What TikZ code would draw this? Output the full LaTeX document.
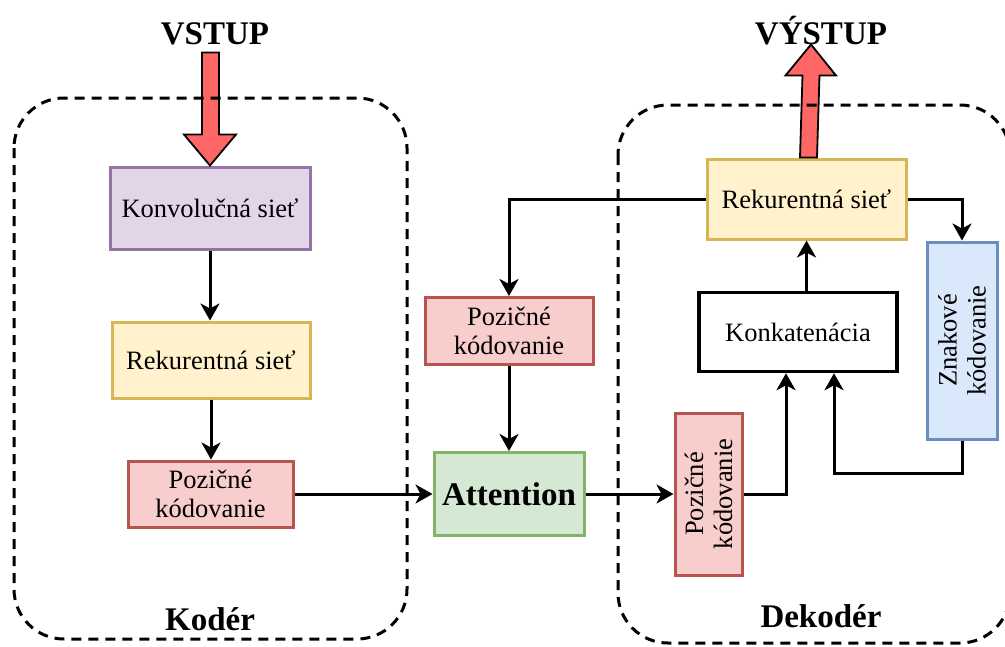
\documentclass[tikz,border=0pt]{standalone}
\usepackage{fontspec}
\setmainfont{Liberation Serif}
\usetikzlibrary{arrows.meta,calc}
\definecolor{purpF}{HTML}{E1D5E7}
\definecolor{purpD}{HTML}{9673A6}
\definecolor{yelF}{HTML}{FFF2CC}
\definecolor{yelD}{HTML}{D6B656}
\definecolor{redF}{HTML}{F8CECC}
\definecolor{redD}{HTML}{B85450}
\definecolor{grnF}{HTML}{D5E8D4}
\definecolor{grnD}{HTML}{82B366}
\definecolor{bluF}{HTML}{DAE8FC}
\definecolor{bluD}{HTML}{6C8EBF}
\definecolor{arrowred}{HTML}{FF6666}
\tikzset{
  box/.style={draw, line width=3pt, inner sep=0pt, align=center,
    font=\fontsize{26.5}{29}\selectfont},
  conn/.style={line width=3pt, -{Stealth[length=17pt,width=19pt,inset=5pt]}},
  container/.style={draw, line width=3pt, dash pattern=on 10pt off 7pt,
    rounded corners=50pt},
  title/.style={font=\fontsize{33}{38}\selectfont\bfseries, inner sep=0pt},
  blockarrow/.style={fill=arrowred, draw=black, line width=1.8pt, line join=miter}
}
\begin{document}
\begin{tikzpicture}[x=1pt,y=-1pt]
\useasboundingbox (0,0) rectangle (1005,646);

% encoder
\node[box, fill=purpF, draw=purpD, minimum width=200, minimum height=82] (konv) at (210,208) {Konvolučná sieť};
\node[box, fill=yelF, draw=yelD, minimum width=198, minimum height=76] (rek) at (211,360) {Rekurentná sieť};
\node[box, fill=redF, draw=redD, minimum width=165, minimum height=66] (pozL) at (210.5,494) {Pozičné\\kódovanie};

% middle
\node[box, fill=grnF, draw=grnD, minimum width=150, minimum height=83,
  font=\fontsize{33}{38}\selectfont\bfseries] (att) at (509,494) {Attention};
\node[box, fill=redF, draw=redD, minimum width=168, minimum height=67] (pozM) at (509,331) {Pozičné\\kódovanie};

% decoder
\node[box, fill=yelF, draw=yelD, minimum width=199, minimum height=80] (rr) at (806.5,199) {Rekurentná sieť};
\node[box, fill=white, draw=black, line width=3.5pt, minimum width=198, minimum height=79] (kon) at (798,332) {Konkatenácia};
\node[box, fill=redF, draw=redD, minimum width=162, minimum height=67, rotate=90] (pv) at (708.5,494) {Pozičné\\kódovanie};
\node[box, fill=bluF, draw=bluD, minimum width=197, minimum height=70, rotate=90] (zn) at (962,340.5) {Znakové\\kódovanie};

% titles
\node[title] (vstup) at (215,34) {VSTUP};
\node[title] (vystup) at (821,31) {VÝSTUP};
\node[title, anchor=base] (koder) at (210,630) {Kodér};
\node[title, anchor=base] (dekoder) at (821,627) {Dekodér};

% connectors
\draw[conn] (konv.south) -- (konv.south |- rek.north);
\draw[conn] (rek.south) -- (rek.south |- pozL.north);
\draw[conn] (pozL.east) -- (att.west);
\draw[conn] (rr.west) -| (pozM.north);
\draw[conn] (pozM.south) -- (att.north);
\draw[conn] (att.east) -- (pv.north);
\draw[conn] (pv.south) -| ($(kon.south)+(-12,0)$);
\draw[conn] (kon.north -| rr.south) -- (rr.south);
\draw[conn] (rr.east) -| (zn.east);
\draw[conn] (zn.west) -- ++(0,33) -| ($(kon.south)+(36,0)$);

% block arrows
\coordinate (inTip) at (konv.north);
\draw[blockarrow] ($(inTip)+(-8,-113)$) -- ($(inTip)+(9,-113)$) -- ($(inTip)+(9,-31)$)
  -- ($(inTip)+(26,-31)$) -- (inTip) -- ($(inTip)+(-26,-31)$) -- ($(inTip)+(-8,-31)$) -- cycle;
\coordinate (outBase) at (rr.north);
\draw[blockarrow] ($(outBase)+(-6.5,0)$) -- ($(outBase)+(10.5,0)$) -- ($(outBase)+(13,-82)$)
  -- ($(outBase)+(29.5,-82)$) -- ($(outBase)+(4.5,-113)$) -- ($(outBase)+(-21,-82)$)
  -- ($(outBase)+(-4,-82)$) -- cycle;

% containers
\draw[container] (14,98) rectangle (407,639);
\draw[container] (618,105) rectangle (1010,643);
\end{tikzpicture}
\end{document}
